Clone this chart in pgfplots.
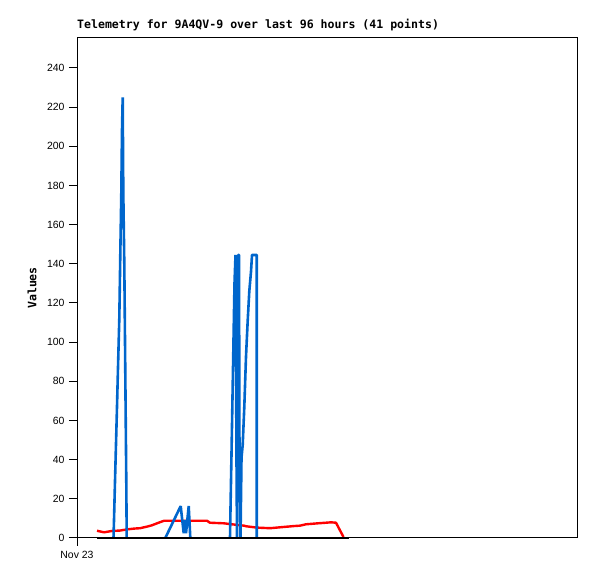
\documentclass[border=0pt]{standalone}
\usepackage{pgfplots}
\pgfplotsset{compat=1.18}
\usepackage{fontspec}
\setmainfont{Liberation Sans}
\newfontfamily\monob{DejaVu Sans Mono}
\definecolor{tblue}{RGB}{0,102,204}
\begin{document}
\begin{tikzpicture}[x=1bp,y=1bp]
\useasboundingbox (0,0) rectangle (597,579);
\begin{axis}[
  at={(77bp,41bp)}, anchor=south west,
  scale only axis, width=500bp, height=500bp,
  xmin=0, xmax=500, ymin=0, ymax=255.3,
  axis line style={line width=1bp, black},
  ytick={0,20,...,240},
  ytick pos=left, xtick pos=bottom,
  xtick={0}, xticklabels={Nov 23},
  tick align=outside, major tick length=8bp,
  tick style={black, line width=1bp},
  /pgf/number format/assume math mode=true,
  ticklabel style={font=\fontsize{10.5}{12}\selectfont},
  yticklabel style={xshift=-1bp},
  xticklabel style={yshift=-2bp},
  title={Telemetry for 9A4QV-9 over last 96 hours (41 points)},
  title style={at={(axis description cs:0,1)}, anchor=base west, yshift=3.5bp, inner sep=0pt, font=\monob\bfseries\fontsize{11.6}{13}\selectfont},
  ylabel={Values},
  ylabel style={at={(axis description cs:-0.09,0.5)}, anchor=center, font=\monob\bfseries\fontsize{11.6}{13}\selectfont},
  clip=false,
  unbounded coords=jump,
]
\addplot[red, line width=2.4bp, line join=round] coordinates {
(20,3.7) (27,2.9) (35,3.6) (43,3.8) (50,4.4) (57,4.8) (63,5.0) (70,5.8) (75,6.5) (80,7.5) (87,8.8) (108,8.8) (130,8.8) (133,7.8) (147,7.5) (153,7.1) (167,6.3) (169,6.0) (180,5.3) (193,5.0) (217,6.1) (223,6.3) (229,7.0) (241,7.5) (254,8.0) (259,7.8) (266.5,0.5)
};
\addplot[tblue, line width=2.6bp, line join=bevel] coordinates {
(36.5,0) (37,9) (38,29) (39,48) (40,67) (41,87) (42.3,112) (43.3,145) (44.3,176) (45,208) (45.7,225) (46.3,176) (47.3,140) (48.3,84) (49.3,28) (49.7,0)
(70,nan)
(88.3,0) (103.7,16.3) (106.7,2.4) (108.3,9.2) (109,2.4) (111.7,16.3) (113.3,0)
(130,nan)
(153,0) (153.5,15) (154.5,43) (155.5,72) (156.5,101) (157.5,130) (158.5,144.5) (159.5,40) (160,0) (160.5,108) (161.3,144.5) (162,144.5) (162.5,40) (163.5,0) (164.5,41) (165.7,47.5) (167.3,67) (169,92.6) (170.7,111) (172.3,126) (174,136) (175,144.5) (179.7,144.5) (179.7,0)
};
\addplot[black, line width=2.5bp] coordinates {(20,0) (271.7,0)};
\end{axis}
\end{tikzpicture}
\end{document}
